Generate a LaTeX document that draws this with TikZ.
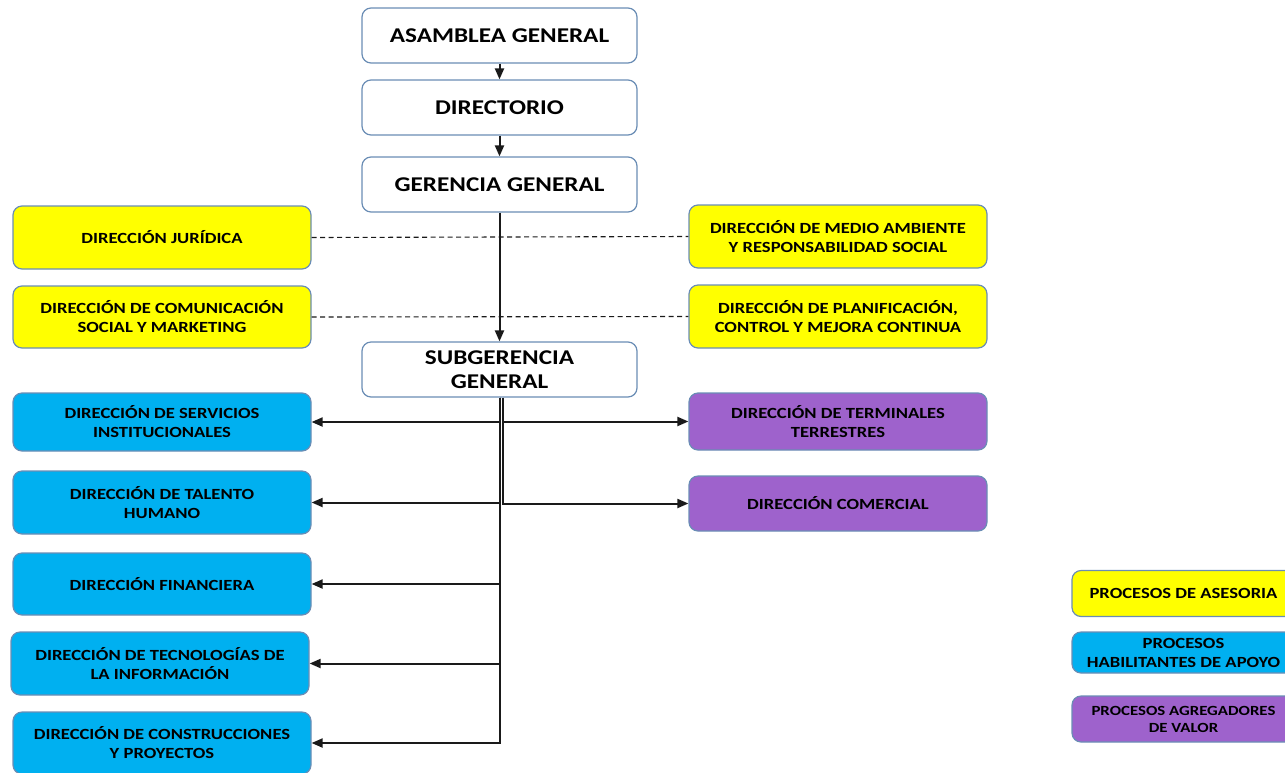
\documentclass[tikz,border=0pt]{standalone}
\usepackage{fontspec}
\setmainfont{Carlito}[FakeStretch=1.2]
\usetikzlibrary{arrows.meta}
\definecolor{bordc}{HTML}{6A8DB5}
\definecolor{yel}{HTML}{FFFF00}
\definecolor{cyanb}{HTML}{00B0F0}
\definecolor{purp}{HTML}{9E62CC}
\definecolor{linec}{HTML}{1A1A1A}
\tikzset{
  box/.style={draw=bordc, line width=1.2pt, rounded corners=9pt, align=center, inner sep=0pt, font=\bfseries\fontsize{15.5}{19}\selectfont},
  topbox/.style={box, fill=white, minimum width=275pt, minimum height=55pt, font=\bfseries\fontsize{21}{24}\selectfont},
  yelbox/.style={box, fill=yel, minimum width=298pt, minimum height=63pt},
  bluebox/.style={box, fill=cyanb, minimum width=298pt, minimum height=60pt},
  purbox/.style={box, fill=purp, minimum width=298pt, minimum height=57pt},
  legbox/.style={box, minimum width=223pt, minimum height=46pt, font=\bfseries\fontsize{15.5}{19}\selectfont},
  conn/.style={draw=linec, line width=2pt, -{Triangle[length=11pt,width=9pt]}},
  dashline/.style={draw=linec, line width=1.1pt, dash pattern=on 5pt off 3.5pt}
}
\begin{document}
\begin{tikzpicture}[x=1pt,y=-1pt]
\useasboundingbox (0,0) rectangle (1285,772);
\node[topbox] (asam) at (499.5,35.5) {ASAMBLEA GENERAL};
\node[topbox] (dir) at (499.5,107.5) {DIRECTORIO};
\node[topbox] (ger) at (499.5,184.5) {GERENCIA GENERAL};
\node[topbox] (sub) at (499.5,369.5) {SUBGERENCIA\\GENERAL};

\node[yelbox] (jur) at (162,237.5) {DIRECCIÓN JURÍDICA};
\node[yelbox, minimum height=62pt] (com) at (162,317) {DIRECCIÓN DE COMUNICACIÓN\\SOCIAL Y MARKETING};
\node[yelbox] (med) at (838,236.5) {DIRECCIÓN DE MEDIO AMBIENTE\\Y RESPONSABILIDAD SOCIAL};
\node[yelbox] (pla) at (838,316.5) {DIRECCIÓN DE PLANIFICACIÓN,\\CONTROL Y MEJORA CONTINUA};

\node[bluebox, minimum height=58pt] (ser) at (162,422) {DIRECCIÓN DE SERVICIOS\\INSTITUCIONALES};
\node[bluebox, minimum height=63pt] (tal) at (162,502.5) {DIRECCIÓN DE TALENTO\\HUMANO};
\node[bluebox, minimum height=62pt] (fin) at (162,584) {DIRECCIÓN FINANCIERA};
\node[bluebox, minimum height=63pt] (tec) at (160,663.5) {DIRECCIÓN DE TECNOLOGÍAS DE\\LA INFORMACIÓN};
\node[bluebox, minimum height=62pt] (con) at (162,743) {DIRECCIÓN DE CONSTRUCCIONES\\Y PROYECTOS};

\node[purbox] (ter) at (838,421.5) {DIRECCIÓN DE TERMINALES\\TERRESTRES};
\node[purbox, minimum height=55pt] (comr) at (838,503.5) {DIRECCIÓN COMERCIAL};

\node[legbox, fill=yel] (l1) at (1183.5,593.5) {PROCESOS DE ASESORIA};
\node[legbox, fill=cyanb, minimum height=41pt] (l2) at (1183.5,652.5) {PROCESOS\\HABILITANTES DE APOYO};
\node[legbox, fill=purp, font=\bfseries\fontsize{14}{17}\selectfont] (l3) at (1183.5,719) {PROCESOS AGREGADORES\\DE VALOR};

\draw[conn] (asam) -- (dir);
\draw[conn] (dir) -- (ger);
\draw[conn] (ger) -- (sub);
\draw[dashline] (jur.east) -- (med.west);
\draw[dashline] (com.east) -- (pla.west);

\draw[conn] (sub.south) |- (ser.east);
\draw[conn] (sub.south) |- (tal.east);
\draw[conn] (sub.south) |- (fin.east);
\draw[conn] (sub.south) |- (tec.east);
\draw[conn] (sub.south) |- (con.east);
\draw[conn] ([xshift=3pt]sub.south) |- (ter.west);
\draw[conn] ([xshift=3pt]sub.south) |- (comr.west);
\end{tikzpicture}
\end{document}
